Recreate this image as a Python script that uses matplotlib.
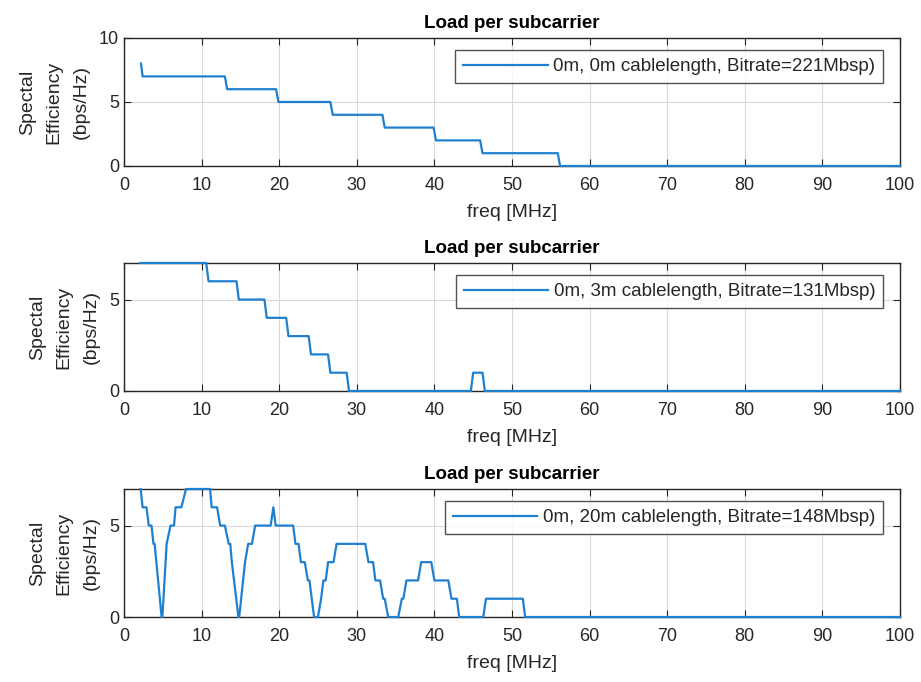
import matplotlib
matplotlib.use("Agg")
import matplotlib.pyplot as plt

plt.rcParams['font.family'] = ['Liberation Sans', 'DejaVu Sans']

# breakpoints of the load curves (freq in MHz, load in bps/Hz)
freq_0m = [2.2, 2.4, 13.0, 13.3, 19.6, 19.9, 26.6, 26.9, 33.3, 33.6,
           39.9, 40.2, 45.9, 46.2, 55.9, 56.2, 100]
load_0m = [8, 7, 7, 6, 6, 5, 5, 4, 4, 3, 3, 2, 2, 1, 1, 0, 0]

freq_3m = [2.1, 10.6, 10.9, 14.5, 14.8, 18.1, 18.4, 20.9, 21.2, 23.8, 24.1,
           26.3, 26.6, 28.7, 29.0, 44.7, 45.0, 46.2, 46.5, 100]
load_3m = [7, 7, 6, 6, 5, 5, 4, 4, 3, 3, 2, 2, 1, 1, 0, 0, 1, 1, 0, 0]

freq_20m = [2.15, 2.4, 2.9, 3.2, 3.55, 3.8, 3.95, 4.85, 4.95, 5.5, 6.0, 6.45,
            6.65, 7.4, 8.0, 11.1, 11.3, 12.0, 12.4, 13.0, 13.5, 13.7, 13.9,
            14.75, 14.85, 15.6, 16.0, 16.5, 16.9, 18.9, 19.25, 19.55, 21.8,
            22.1, 22.5, 22.8, 23.3, 23.7, 23.9, 24.2, 24.5, 25.0, 25.4, 25.7,
            26.0, 26.3, 27.0, 27.4, 31.1, 31.5, 32.1, 32.4, 33.0, 33.4, 33.6,
            34.05, 35.35, 35.8, 36.0, 36.4, 37.9, 38.3, 39.6, 40.0, 41.8,
            42.2, 42.9, 43.2, 46.3, 46.65, 51.4, 51.7, 100]
load_20m = [7, 6, 6, 5, 5, 4, 4, 0, 0, 4, 5, 5,
            6, 6, 7, 7, 6, 6, 5, 5, 4, 4, 3,
            0, 0, 3, 4, 4, 5, 5, 6, 5, 5,
            4, 4, 3, 3, 2, 2, 1, 0, 0, 1, 2,
            2, 3, 3, 4, 4, 3, 3, 2, 2, 1, 1,
            0, 0, 1, 1, 2, 2, 3, 3, 2, 2,
            1, 1, 0, 0, 1, 1, 0, 0]

labels = ['0m, 0m cablelength, Bitrate=221Mbsp)',
          '0m, 3m cablelength, Bitrate=131Mbsp)',
          '0m, 20m cablelength, Bitrate=148Mbsp)']
ylims = [10, 7, 7]
yticks = [[0, 5, 10], [0, 5], [0, 5]]

fig = plt.figure(figsize=(9.21, 6.82), dpi=100)
bottoms = [0.7566, 0.4267, 0.0953]
curves = [(freq_0m, load_0m), (freq_3m, load_3m), (freq_20m, load_20m)]

for i, (f, v) in enumerate(curves):
    ax = fig.add_axes([0.1346, bottoms[i], 0.8426, 0.1877])
    ax.plot(f, v, color='#2080d0', lw=1.6, label=labels[i], clip_on=False,
            zorder=3)
    ax.set_xlim(0, 100)
    ax.set_ylim(0, ylims[i])
    ax.set_xticks(range(0, 101, 10))
    ax.set_yticks(yticks[i])
    ax.grid(True, color='#d9d9d9', lw=0.8)
    ax.tick_params(direction='in', top=True, right=True, labelsize=13,
                   length=5, color='#262626', labelcolor='#262626')
    ax.tick_params(axis='x', pad=8)
    for s in ax.spines.values():
        s.set_color('#262626')
        s.set_linewidth(1.0)
    ax.set_title('Load per subcarrier', fontsize=13.5, fontweight='bold',
                 color='black', pad=7)
    ax.set_xlabel('freq [MHz]', fontsize=14, color='#262626', labelpad=7)
    ax.set_ylabel('Spectal\nEfficiency\n(bps/Hz)', fontsize=14,
                  color='#262626', linespacing=1.75, labelpad=7)
    leg = ax.legend(loc='upper right', bbox_to_anchor=(1.0, 1.035),
                    fontsize=13.5, frameon=True, fancybox=False,
                    handlelength=4.5, borderpad=0.42, handletextpad=0.3,
                    borderaxespad=0.9)
    leg.get_frame().set_edgecolor('#262626')
    leg.get_frame().set_linewidth(1.0)
    for t in leg.get_texts():
        t.set_color('#262626')

fig.savefig('out.png', dpi=100)
